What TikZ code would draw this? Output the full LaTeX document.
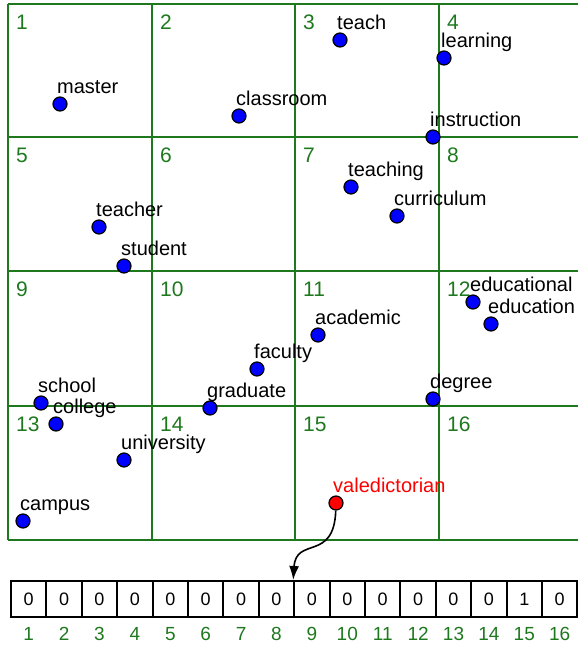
\documentclass[tikz,border=0pt]{standalone}
\usepackage{fontspec}
\setmainfont{Liberation Sans}
\usepackage{tikz}
\usetikzlibrary{arrows.meta}
\definecolor{gridgreen}{RGB}{30,120,30}
\definecolor{dotblue}{RGB}{0,0,255}
\tikzset{
	gridline/.style={draw=gridgreen,line width=2.1pt},
	cellnum/.style={text=gridgreen,font=\fontsize{21}{24}\selectfont,anchor=west,inner sep=0pt},
	dot/.style={circle,draw=black,fill=dotblue,line width=1.2pt,minimum size=14pt,inner sep=0pt},
	word/.style={font=\fontsize{20}{24}\selectfont,anchor=base west,inner sep=0pt},
	bit/.style={draw=black,line width=2pt,fill=white,minimum width=35.4pt,minimum height=36pt,inner sep=0pt,font=\fontsize{18}{21}\selectfont},
	bitnum/.style={text=gridgreen,font=\fontsize{19}{22}\selectfont,inner sep=0pt}
}
\begin{document}
\begin{tikzpicture}[x=1pt,y=-1pt]
	\useasboundingbox (0,0) rectangle (578,648);
	\foreach \y in {4,137,271,406,540}
		\draw[gridline] (8,\y) -- (580,\y);
	\foreach \x in {8,152,295,439}
		\draw[gridline] (\x,4) -- (\x,540);
	\foreach \n/\x/\y in {1/8/4,2/152/4,3/295/4,4/439/4,5/8/137,6/152/137,7/295/137,8/439/137,
		9/8/271,10/152/271,11/295/271,12/439/271,13/8/406,14/152/406,15/295/406,16/439/406}
		\node[cellnum] (n\n) at (\x+8,\y+18) {\n};
	\foreach \x/\y/\w in {60/104/master,239/116/classroom,340/40/teach,444/58/learning,
		433/137/instruction,351/187/teaching,397/216/curriculum,99/227/teacher,124/266/student,
		41/403/school,56/424/college,257/369/faculty,210/408/graduate,318/335/academic,
		473/302/educational,491/324/education,433/399/degree,124/460/university,23/521/campus}
	{
		\node[dot] (\w) at (\x,\y) {};
		\node[word] (\w-label) at ([shift={(-3pt,11pt)}]\w.center) {\w};
	}
	\node[dot,fill=red] (valedictorian) at (336,503) {};
	\node[word,text=red] (valedictorian-label) at ([shift={(-3pt,11pt)}]valedictorian.center) {valedictorian};
	\foreach \i/\v in {1/0,2/0,3/0,4/0,5/0,6/0,7/0,8/0,9/0,10/0,11/0,12/0,13/0,14/0,15/1,16/0}
	{
		\node[bit] (b\i) at ({28.7+35.4*(\i-1)},599) {\v};
		\node[bitnum] (k\i) at ({28.7+35.4*(\i-1)},634) {\i};
	}
	\draw[line width=1.6pt,-{Latex[length=14pt,width=10pt]}] (valedictorian)
		.. controls (334,562) and (296,536) .. (b9.north west);
\end{tikzpicture}
\end{document}
